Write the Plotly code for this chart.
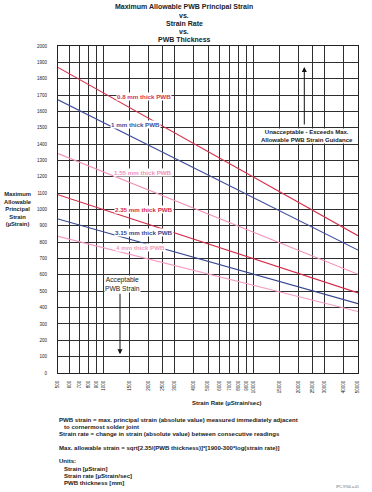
import numpy as np
import plotly.graph_objects as go

# ---- data ----
strain_rates = [500, 50000]  # x-axis extent, µStrain/sec
thickness_labels = ["0.8 mm thick PWB", "1 mm thick PWB", "1.55 mm thick PWB",
                    "2.35 mm thick PWB", "3.15 mm thick PWB", "4 mm thick PWB"]
strain_0p8 = [1869, 840]
strain_1p0 = [1671, 752]
strain_1p55 = [1342, 604]
strain_2p35 = [1090, 490]
strain_3p15 = [942, 424]
strain_4p0 = [836, 376]
x_tick_vals = [500, 600, 700, 800, 900, 1000, 1500, 2000, 2500, 3000, 4000,
               5000, 6000, 7000, 8000, 9000, 10000, 15000, 20000, 25000,
               30000, 40000, 50000]
y_tick_vals = list(range(0, 2001, 100))

series = [strain_0p8, strain_1p0, strain_1p55, strain_2p35, strain_3p15, strain_4p0]
colors = ["#d4324c", "#414f9c", "#f291b8", "#d42a48", "#35458f", "#f49ac2"]

# ---- layout geometry (pixels) ----
W, H = 372, 492
L, R, T, B = 58, 358, 46, 372.7


def px(xp, yp):
    return (xp - L) / (R - L), (B - yp) / (B - T)


FONT = "Liberation Sans, Arial, sans-serif"

fig = go.Figure()
for vals, c in zip(series, colors):
    fig.add_trace(go.Scatter(x=strain_rates, y=vals, mode="lines",
                             line=dict(color=c, width=1.1), hoverinfo="skip",
                             showlegend=False))

ann = []


def add_text(xp, yp, text, size=6, color="#222", bold=False, xanchor="center",
             bg=None, align="center", height=None):
    x, y = px(xp, yp)
    if bold:
        text = "<b>" + text + "</b>"
    d = dict(x=x, y=y, xref="paper", yref="paper", text=text, showarrow=False,
             xanchor=xanchor, yanchor="middle", align=align,
             font=dict(family=FONT, size=size, color=color))
    if bg:
        d.update(bgcolor=bg, borderpad=0)
    if height:
        d.update(height=height, valign="middle", borderpad=0)
    ann.append(d)


# titles
for yp, t in [(7, "Maximum Allowable PWB Principal Strain"), (15.5, "vs."),
              (23.2, "Strain Rate"), (31.3, "vs."), (39.5, "PWB Thickness")]:
    add_text(184, yp, t, 7.0, bold=True, height=7)

# y title
add_text(18, 209, "Maximum<br>Allowable<br>Principal<br>Strain<br>(µStrain)", 5.8,
         bold=True)
# x title
add_text(226, 403, "Strain Rate (µStrain/sec)", 6, bold=True)

# line labels
label_pos = [(144, 96.7), (135, 124.3), (143, 172), (144, 209), (144, 232.3), (140, 247.7)]
for (xp, yp), t, c in zip(label_pos, thickness_labels, colors):
    add_text(xp, yp, t, 6.2, color=c, bold=True, bg="white")

# region notes
add_text(307, 136, "Unacceptable - Exceeds Max.<br>Allowable PWB Strain Guidance", 6,
         bold=True, bg="white")
add_text(122, 284, "Acceptable<br>PWB Strain", 6.7, bg="white")

# arrows (head position in paper coords, tail offset in pixels)
xh, yh = px(304.3, 67)
ann.append(dict(x=xh, y=yh, ax=0, ay=59, xref="paper", yref="paper",
                axref="pixel", ayref="pixel", showarrow=True, arrowhead=2,
                arrowsize=1, arrowwidth=1, arrowcolor="#111", text=""))
xh, yh = px(120, 354)
ann.append(dict(x=xh, y=yh, ax=0, ay=-62, xref="paper", yref="paper",
                axref="pixel", ayref="pixel", showarrow=True, arrowhead=2,
                arrowsize=1, arrowwidth=1, arrowcolor="#111", text=""))

# footnotes
notes = [
    (57, 420, "PWB strain = max. principal strain (absolute value) measured immediately adjacent"),
    (62, 427, "to cornermost solder joint"),
    (57, 434, "Strain rate = change in strain (absolute value) between consecutive readings"),
    (57, 448, "Max. allowable strain = sqrt[2.35/(PWB thickness)]*[1900-300*log(strain rate)]"),
    (57, 461, "Units:"),
    (62, 469, "Strain [µStrain]"),
    (62, 476, "Strain rate [µStrain/sec]"),
    (62, 483, "PWB thickness [mm]"),
]
for xp, yp, t in notes:
    add_text(xp, yp, t, 6.05, bold=True, xanchor="left", align="left")
add_text(347, 487, "IPC-9704-a-01", 3.5, color="#666")

fig.update_layout(
    width=W, height=H,
    margin=dict(l=L, r=W - R, t=T, b=H - B, pad=0),
    paper_bgcolor="white", plot_bgcolor="white",
    annotations=ann,
    xaxis=dict(type="log", range=[np.log10(500), np.log10(50000)],
               tickvals=x_tick_vals, ticktext=[str(v) for v in x_tick_vals],
               tickangle=-90, tickfont=dict(family=FONT, size=4.5, color="#222"),
               showgrid=True, gridcolor="#2e2e2e", gridwidth=1.2,
               showline=True, linecolor="#222", linewidth=1, mirror=True,
               ticks="outside", ticklen=5, tickcolor="rgba(0,0,0,0)",
               zeroline=False),
    yaxis=dict(range=[0, 2000], tickvals=y_tick_vals,
               tickfont=dict(family=FONT, size=4.5, color="#222"),
               showgrid=True, gridcolor="#2e2e2e", gridwidth=1.2,
               showline=True, linecolor="#222", linewidth=1, mirror=True,
               ticks="outside", ticklen=9, tickcolor="rgba(0,0,0,0)",
               zeroline=False),
)

fig.write_html("out.html", config={"displayModeBar": False},
               post_script="document.body.style.margin='0px';"
                           "document.body.style.overflow='hidden';")
